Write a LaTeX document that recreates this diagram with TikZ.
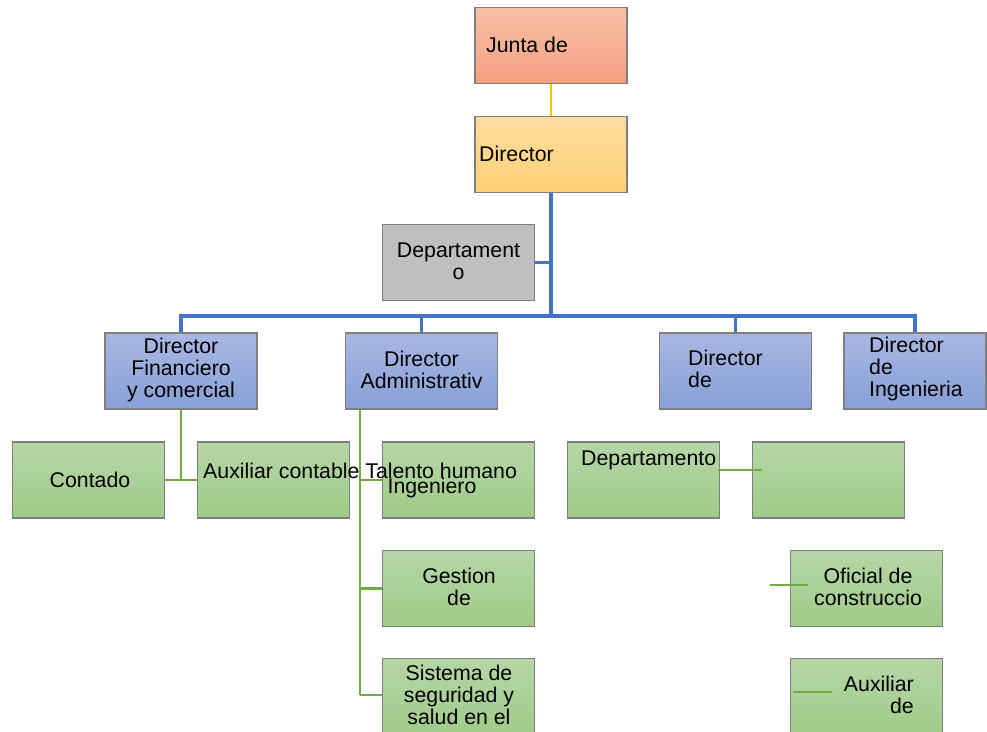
\documentclass[tikz,border=0pt]{standalone}
\usepackage{fontspec}
\setmainfont{Liberation Sans}
\begin{document}
\begin{tikzpicture}[x=1pt,y=-1pt,
  box/.style={draw=boxline, line width=1.3pt, minimum width=152pt, minimum height=76pt, inner sep=0pt},
  redbox/.style={box, top color=redtop, bottom color=redbot},
  yelbox/.style={box, top color=yeltop, bottom color=yelbot},
  graybox/.style={box, fill=grayfill},
  bluebox/.style={box, top color=bluetop, bottom color=bluebot},
  greenbox/.style={box, top color=greentop, bottom color=greenbot},
  txt/.style={font=\fontsize{21.3}{22.3}\selectfont, inner sep=0pt, align=center, text=black},
  yline/.style={draw=lineyel, line width=2.2pt},
  bline/.style={draw=lineblue, line width=3.2pt},
  gline/.style={draw=linegreen, line width=2.7pt}]
\definecolor{boxline}{HTML}{7F7F7F}
\definecolor{redtop}{HTML}{F8C0A8}
\definecolor{redbot}{HTML}{F4A080}
\definecolor{yeltop}{HTML}{FEDC9E}
\definecolor{yelbot}{HTML}{FDD177}
\definecolor{grayfill}{HTML}{BFBFBF}
\definecolor{bluetop}{HTML}{A9B7E2}
\definecolor{bluebot}{HTML}{87A0D8}
\definecolor{greentop}{HTML}{B5D6A7}
\definecolor{greenbot}{HTML}{A0CB88}
\definecolor{lineyel}{HTML}{FFC000}
\definecolor{lineblue}{HTML}{4472C4}
\definecolor{linegreen}{HTML}{70AD47}
\useasboundingbox (0,0) rectangle (987,731);
\begin{scope}
\clip (0,0) rectangle (987,731);
% boxes
\node[redbox]   (junta)   at (551,45.5) {};
\node[yelbox]   (dir)     at (551,154.5) {};
\node[graybox]  (dep)     at (458.5,262.5) {};
\node[bluebox]  (dfin)    at (181,371) {};
\node[bluebox]  (dadm)    at (421.5,371) {};
\node[bluebox]  (dde)     at (735.5,371) {};
\node[bluebox, minimum width=142pt] (ding) at (915,371) {};
\node[greenbox] (contado) at (88.5,480) {};
\node[greenbox] (auxc)    at (273.5,480) {};
\node[greenbox] (talento) at (458.5,480) {};
\node[greenbox] (depto)   at (643.5,480) {};
\node[greenbox] (vacio)   at (828.5,480) {};
\node[greenbox] (gestion) at (458.5,588.5) {};
\node[greenbox] (sistema) at (458.5,696.5) {};
\node[greenbox] (oficial) at (866.5,588.5) {};
\node[greenbox] (auxde)   at (866.5,696.5) {};
% connectors
\draw[yline] (junta.south) -- (dir.north);
\coordinate (bus) at (551,316);
\draw[bline] (dir.south) -- (bus);
\draw[bline] (dep.east) -- (dep.east -| dir.south);
\draw[bline] (dfin.north) |- (bus);
\draw[bline] (dadm.north) |- (bus);
\draw[bline] (dde.north) |- (bus);
\draw[bline] (ding.north) |- (bus);
\draw[gline] (dfin.south) -- (dfin.south |- contado.east);
\draw[gline] (contado.east) -- (auxc.west);
\coordinate (admtrunk) at ([xshift=15pt]dadm.south west);
\coordinate (admend) at (admtrunk |- 0,695);
\draw[gline] (admtrunk) -- (admend);
\draw[gline] (admtrunk |- talento.west) -- (talento.west);
\draw[gline] (admtrunk |- gestion.west) -- (gestion.west);
\draw[gline] (admend) -- (sistema.west |- admend);
\coordinate (dl) at (718,470);
\coordinate (dr) at (762,470);
\draw[gline] (dl) -- (dr);
\coordinate (ol) at (770,585);
\coordinate (or) at (808,585);
\draw[gline] (ol) -- (or);
\coordinate (al) at (793,692);
\coordinate (ar) at (832,692);
\draw[gline] (al) -- (ar);
% texts
\node[txt, anchor=west] (tjunta) at (486,45) {Junta de};
\node[txt, anchor=west] (tdir) at (479,154) {Director};
\node[txt] (tdep) at (458.5,261) {Departament\\o};
\node[txt] (tdfin) at (181,370) {Director\\Financiero\\y comercial};
\node[txt] (tdadm) at (421.5,370) {Director\\Administrativ};
\node[txt, anchor=west, align=left] (tdde) at (688,369) {Director\\de};
\node[txt, anchor=west, align=left] (tding) at (869,369) {Director\\de\\Ingenieria};
\node[txt] (tcont) at (90,480) {Contado};
\node[txt, anchor=west] (tauxc) at (203,471) {Auxiliar contable Talento humano};
\node[txt] (ting) at (432,488) {Ingeniero};
\node[txt, anchor=west] (tdepto) at (581,460) {Departamento};
\node[txt] (tgest) at (459,587) {Gestion\\de};
\node[txt] (tsist) at (459,695) {Sistema de\\seguridad y\\salud en el};
\node[txt] (tofi) at (868,587) {Oficial de\\construccio};
\node[txt, anchor=east, align=right] (tauxde) at (914,695) {Auxiliar\\de};
\end{scope}
\end{tikzpicture}
\end{document}
